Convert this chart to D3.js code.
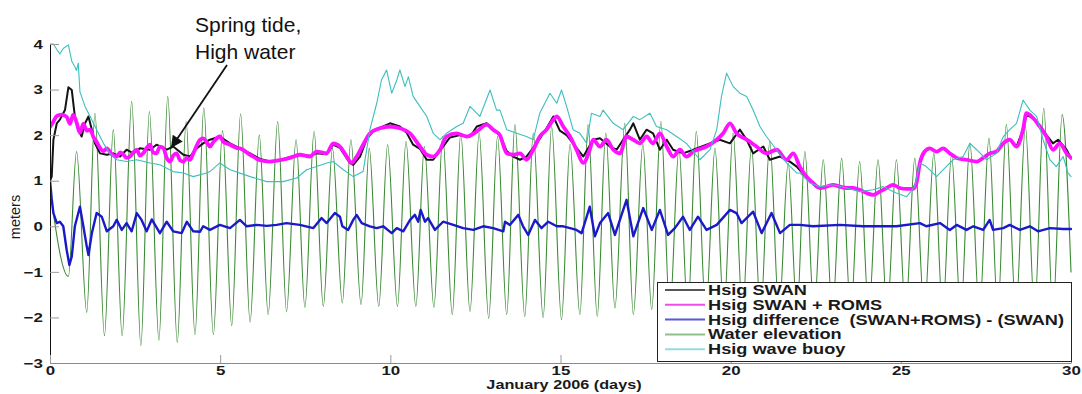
<!DOCTYPE html>
<html>
<head>
<meta charset="utf-8">
<script src="https://cdn.jsdelivr.net/npm/d3@7"></script>
<style>
  html, body { margin: 0; padding: 0; background: #fff; }
  svg { display: block; }
  text { font-family: "Liberation Sans", Arial, Helvetica, sans-serif; }
</style>
</head>
<body>
<svg id="chart" width="1082" height="394"></svg>
<script>
// ---- Water elevation: successive low / high water (day, metres) ----
const tideDay = [0.00, 0.54, 0.78, 1.08, 1.32, 1.60, 1.86, 2.12, 2.40, 2.67, 2.92, 3.20, 3.46, 3.74, 4.00, 4.26, 4.52, 4.80,
  5.07, 5.34, 5.60, 5.88, 6.15, 6.41, 6.69, 6.95, 7.23, 7.49, 7.76, 8.03, 8.30, 8.59, 8.84, 9.14, 9.38, 9.66, 9.92,
  10.21, 10.46, 10.75, 11.00, 11.28, 11.54, 11.82, 12.07, 12.34, 12.61, 12.89, 13.15, 13.42, 13.66, 13.95, 14.20,
  14.49, 14.74, 15.03, 15.28, 15.57, 15.81, 16.08, 16.33, 16.60, 16.89, 17.14, 17.42, 17.68, 17.95, 18.21, 18.48,
  18.74, 18.99, 19.27, 19.54, 19.80, 20.07, 20.35, 20.61, 20.88, 21.15, 21.42, 21.69, 21.95, 22.18, 22.45, 22.72,
  22.99, 23.26, 23.53, 23.79, 24.06, 24.33, 24.60, 24.87, 25.14, 25.41, 25.69, 25.97, 26.23, 26.49, 26.76, 27.03,
  27.31, 27.59, 27.85, 28.10, 28.38, 28.66, 28.93, 29.20, 29.47, 29.74, 30.00];
const tideLevel = [0.80, -1.10, 1.64, -1.89, 2.48, -2.40, 2.12, -2.40, 2.74, -2.62, 2.52, -2.50, 2.85, -2.55, 2.30, -2.38, 2.60, -2.38,
  2.10, -2.18, 2.47, -2.10, 2.00, -1.94, 2.30, -1.87, 1.90, -1.78, 2.08, -1.76, 1.71, -1.68, 1.90, -1.72, 1.71, -1.76, 1.79,
  -1.76, 1.86, -1.76, 1.75, -1.78, 1.97, -1.94, 2.04, -1.87, 2.04, -2.02, 1.97, -1.94, 2.23, -1.98, 2.04,
  -2.00, 2.19, -2.05, 1.80, -1.94, 2.23, -1.98, 2.04, -1.79, 2.26, -1.94, 1.80, -1.83, 2.30, -1.90, 1.70,
  -1.90, 2.08, -1.90, 1.71, -1.90, 2.04, -1.90, 1.75, -1.90, 1.86, -1.90, 1.39, -1.90, 1.64, -1.90, 1.46,
  -1.90, 1.49, -1.90, 1.42, -1.90, 1.46, -1.90, 1.46, -1.90, 1.49, -1.90, 1.60, -1.90, 1.57, -1.90, 1.82,
  -1.90, 1.93, -1.90, 2.23, -1.90, 2.19, -1.90, 2.59, -1.90, 2.45, -1.00];

// ---- Hsig from the wave buoy ----
const buoyDay = [0.00, 0.10, 0.20, 0.29, 0.39, 0.54, 0.64, 0.73, 0.78, 0.83, 0.88, 1.03, 1.18, 1.37, 1.57, 1.76, 1.96, 2.25,
  2.55, 2.94, 3.23, 3.62, 3.92, 4.21, 4.60, 4.70, 4.99, 5.29, 5.88, 6.37, 6.85, 7.25, 7.54, 7.83, 8.13, 8.32, 8.62,
  8.91, 9.20, 9.40, 9.60, 9.74, 9.89, 10.04, 10.19, 10.28, 10.43, 10.53, 10.67, 10.87, 11.07, 11.26, 11.46, 11.65,
  11.95, 12.14, 12.34, 12.63, 12.93, 13.12, 13.22, 13.42, 13.71, 14.00, 14.20, 14.39, 14.69, 14.89, 15.03, 15.18,
  15.37, 15.57, 15.77, 15.91, 16.16, 16.25, 16.55, 16.84, 17.14, 17.33, 17.63, 17.82, 18.12, 18.41, 18.70, 19.10,
  19.39, 19.59, 19.73, 19.88, 20.07, 20.27, 20.47, 20.66, 20.86, 21.05, 21.35, 21.64, 21.94, 22.03, 22.33, 22.62,
  23.01, 23.40, 23.79, 24.19, 24.48, 24.87, 25.17, 25.41, 25.56, 25.75, 26.05, 26.24, 26.54, 26.83, 27.03, 27.23,
  27.52, 27.81, 28.01, 28.20, 28.40, 28.59, 28.79, 28.99, 29.18, 29.38, 29.57, 29.77, 29.91, 30.00];
const buoyHs = [4.00, 4.00, 3.88, 3.78, 3.90, 3.98, 3.62, 3.50, 3.42, 3.58, 2.95, 2.63, 2.41, 2.12, 1.82, 1.60, 1.46, 1.42,
  1.46, 1.39, 1.35, 1.20, 1.17, 1.09, 1.17, 1.20, 1.39, 1.24, 1.09, 0.98, 0.98, 1.06, 1.24, 1.31, 1.39, 1.42, 1.24,
  1.09, 1.20, 2.12, 2.70, 3.21, 3.43, 2.92, 3.21, 3.43, 3.07, 3.28, 2.85, 2.63, 2.41, 2.04, 1.90, 2.04,
  2.19, 2.26, 2.63, 2.41, 2.99, 2.55, 2.55, 2.12, 2.04, 1.97, 1.90, 2.48, 2.92, 2.70, 2.99, 2.63,
  2.12, 2.04, 1.82, 2.48, 2.41, 2.55, 2.26, 2.12, 2.41, 2.34, 2.48, 2.19, 2.12, 1.97, 1.82, 1.46,
  1.68, 2.12, 2.85, 3.36, 3.07, 2.92, 2.85, 2.55, 2.19, 1.97, 1.68, 1.39, 1.17, 1.17, 0.95, 0.87,
  0.91, 0.84, 0.76, 0.80, 0.87, 0.73, 0.65, 0.87, 1.39, 1.31, 1.09, 1.24, 1.46, 1.53, 1.82, 1.68,
  1.46, 1.60, 1.97, 2.12, 2.26, 2.77, 2.55, 2.41, 1.90, 1.46, 1.31, 1.53, 1.17, 1.09];

// ---- Hsig, SWAN alone ----
const swanDay = [0.00, 0.05, 0.10, 0.20, 0.29, 0.44, 0.54, 0.64, 0.73, 0.83, 0.93, 1.03, 1.13, 1.23, 1.32, 1.47, 1.67, 1.86,
  2.06, 2.25, 2.45, 2.64, 2.94, 3.13, 3.43, 3.62, 3.92, 4.11, 4.31, 4.50, 4.70, 4.99, 5.29, 5.58, 5.88, 6.17, 6.46,
  6.76, 7.05, 7.34, 7.64, 7.83, 8.13, 8.32, 8.52, 8.81, 8.91, 9.11, 9.30, 9.50, 9.99, 10.28, 10.48, 10.67, 10.87,
  11.07, 11.26, 11.55, 11.75, 12.05, 12.35, 12.54, 12.83, 13.02, 13.22, 13.42, 13.61, 13.81, 14.00, 14.30, 14.59,
  14.79, 14.98, 15.18, 15.37, 15.67, 15.96, 16.16, 16.45, 16.65, 16.84, 17.04, 17.14, 17.33, 17.53, 17.72, 17.92,
  18.12, 18.31, 18.60, 18.90, 19.29, 19.68, 19.98, 20.27, 20.47, 20.66, 20.96, 21.15, 21.45, 21.74, 21.94, 22.13,
  22.33, 22.52, 22.82, 23.01, 23.21, 23.40, 23.60, 23.79, 23.99, 24.19, 24.38, 24.58, 24.77, 24.97, 25.17, 25.36,
  25.46, 25.56, 25.70, 25.85, 26.05, 26.24, 26.44, 26.64, 26.93, 27.23, 27.42, 27.61, 27.81, 28.01, 28.20, 28.40,
  28.59, 28.69, 28.89, 29.08, 29.28, 29.47, 29.62, 29.87, 30.00];
const swanHs = [1.00, 1.09, 1.90, 2.26, 2.34, 2.55, 3.05, 2.99, 2.41, 2.12, 1.97, 2.26, 2.41, 2.12, 1.82, 1.60, 1.57, 1.60,
  1.53, 1.68, 1.60, 1.71, 1.68, 1.79, 1.68, 1.75, 1.57, 1.53, 1.71, 1.82, 1.90, 1.97, 1.82, 1.71, 1.60, 1.48, 1.42,
  1.45, 1.52, 1.57, 1.55, 1.60, 1.58, 1.79, 1.72, 1.39, 1.35, 1.53, 1.90, 2.10, 2.26, 2.19, 2.05, 1.79, 1.70,
  1.46, 1.46, 1.75, 1.95, 2.00, 1.97, 2.19, 2.26, 2.12, 2.00, 1.65, 1.53, 1.46, 1.53, 1.82, 2.15,
  2.41, 2.10, 2.00, 1.82, 1.53, 1.90, 1.93, 1.75, 1.68, 1.90, 2.12, 2.26, 1.90, 2.12, 2.04, 1.68,
  1.90, 1.68, 1.60, 1.68, 1.79, 1.90, 1.82, 2.12, 1.90, 1.60, 1.75, 1.46, 1.53, 1.42, 1.31, 1.15,
  1.00, 0.86, 0.87, 0.91, 0.87, 0.84, 0.84, 0.80, 0.73, 0.69, 0.76, 0.84, 0.91, 0.84, 0.82, 0.82,
  0.95, 1.39, 1.64, 1.71, 1.64, 1.71, 1.60, 1.50, 1.46, 1.42, 1.50, 1.60, 1.64, 1.82, 1.90, 1.75,
  2.12, 2.45, 2.37, 2.22, 2.00, 1.82, 1.90, 1.68, 1.50];

// ---- Hsig, coupled SWAN + ROMS ----
const coupledDay = [0.00, 0.10, 0.20, 0.34, 0.49, 0.59, 0.68, 0.78, 0.88, 0.98, 1.08, 1.18, 1.27, 1.37, 1.47, 1.57, 1.67, 1.81,
  1.96, 2.06, 2.15, 2.25, 2.35, 2.45, 2.55, 2.64, 2.74, 2.84, 2.94, 3.03, 3.13, 3.23, 3.33, 3.43, 3.53, 3.62, 3.72,
  3.82, 3.92, 4.02, 4.11, 4.21, 4.41, 4.50, 4.60, 4.70, 4.80, 4.99, 5.10, 5.29, 5.48, 5.58, 5.88, 6.17, 6.46, 6.76,
  7.05, 7.34, 7.64, 7.83, 8.13, 8.32, 8.52, 8.72, 8.86, 9.01, 9.20, 9.40, 9.69, 9.99, 10.28, 10.58, 10.87, 11.07,
  11.26, 11.46, 11.65, 11.95, 12.24, 12.54, 12.83, 13.02, 13.22, 13.42, 13.61, 13.81, 14.00, 14.20, 14.39, 14.59,
  14.79, 14.89, 15.08, 15.28, 15.47, 15.67, 15.86, 15.96, 16.16, 16.35, 16.55, 16.75, 16.94, 17.14, 17.33, 17.53,
  17.72, 17.92, 18.12, 18.31, 18.51, 18.70, 18.90, 19.29, 19.59, 19.78, 19.98, 20.17, 20.47, 20.76, 21.05, 21.35,
  21.64, 21.84, 22.03, 22.23, 22.42, 22.62, 22.82, 23.01, 23.21, 23.40, 23.60, 23.79, 23.99, 24.19, 24.38, 24.58,
  24.77, 24.97, 25.17, 25.36, 25.46, 25.56, 25.70, 25.85, 26.05, 26.24, 26.44, 26.64, 26.93, 27.23, 27.42, 27.61,
  27.81, 28.01, 28.20, 28.40, 28.59, 28.69, 28.89, 29.08, 29.28, 29.47, 29.67, 29.87, 30.00];
const coupledHs = [2.18, 2.30, 2.42, 2.45, 2.40, 2.25, 2.45, 2.28, 2.05, 2.25, 2.10, 2.12, 1.97, 1.85, 1.72, 1.65, 1.71, 1.58,
  1.53, 1.62, 1.58, 1.50, 1.53, 1.62, 1.68, 1.55, 1.60, 1.72, 1.79, 1.62, 1.60, 1.75, 1.72, 1.50, 1.42, 1.55, 1.60,
  1.45, 1.42, 1.50, 1.46, 1.60, 1.90, 1.93, 1.85, 1.75, 1.85, 1.97, 1.85, 1.79, 1.72, 1.71, 1.57, 1.45, 1.42, 1.45,
  1.50, 1.57, 1.53, 1.64, 1.60, 1.82, 1.75, 1.53, 1.39, 1.53, 1.79, 2.04, 2.15, 2.19, 2.15, 2.04, 1.75, 1.57,
  1.53, 1.68, 1.97, 2.04, 1.97, 2.08, 2.23, 2.12, 2.00, 1.60, 1.57, 1.60, 1.46, 1.68, 1.97, 2.12,
  2.34, 2.41, 2.19, 1.97, 1.68, 1.39, 1.68, 1.90, 1.75, 1.90, 1.68, 1.60, 1.97, 1.90, 1.82, 1.97,
  1.82, 2.04, 1.75, 1.53, 1.68, 1.53, 1.64, 1.75, 1.90, 2.04, 2.26, 2.04, 1.90, 1.75, 1.60, 1.68,
  1.46, 1.60, 1.31, 1.09, 0.95, 0.84, 0.87, 0.91, 0.87, 0.84, 0.84, 0.80, 0.73, 0.69, 0.76, 0.84,
  0.91, 0.84, 0.82, 0.82, 0.95, 1.39, 1.64, 1.71, 1.64, 1.71, 1.60, 1.50, 1.46, 1.42, 1.50, 1.60,
  1.64, 1.82, 1.90, 1.75, 2.12, 2.48, 2.37, 2.19, 1.97, 1.68, 1.82, 1.60, 1.50];

// ---- Hsig difference (SWAN+ROMS) - (SWAN) ----
const diffDay = [0.00, 0.05, 0.10, 0.20, 0.29, 0.39, 0.49, 0.57, 0.64, 0.73, 0.88, 0.98, 1.08, 1.13, 1.23, 1.37, 1.52, 1.67,
  1.86, 1.96, 2.11, 2.25, 2.40, 2.55, 2.69, 2.84, 2.99, 3.23, 3.43, 3.62, 3.87, 4.02, 4.21, 4.41, 4.50, 4.70, 4.99,
  5.29, 5.58, 5.78, 6.07, 6.37, 6.66, 6.95, 7.34, 7.74, 7.98, 8.13, 8.37, 8.52, 8.59, 8.76, 8.91, 9.01, 9.16, 9.40,
  9.60, 9.79, 10.04, 10.19, 10.38, 10.58, 10.72, 10.82, 10.89, 11.02, 11.11, 11.31, 11.55, 11.85, 12.14, 12.44,
  12.73, 13.02, 13.32, 13.37, 13.51, 13.76, 13.90, 14.05, 14.25, 14.44, 14.64, 14.89, 15.08, 15.28, 15.47, 15.62,
  15.77, 15.86, 16.01, 16.16, 16.40, 16.60, 16.94, 17.14, 17.43, 17.68, 17.92, 18.16, 18.36, 18.60, 18.80, 19.04,
  19.29, 19.59, 19.98, 20.17, 20.32, 20.66, 20.91, 21.20, 21.45, 21.74, 22.03, 22.42, 23.21, 23.89, 24.87, 25.56,
  25.75, 26.15, 26.44, 26.64, 26.93, 27.13, 27.42, 27.61, 27.71, 28.01, 28.20, 28.50, 28.79, 29.03, 29.38, 29.77, 30.00];
const diffHs = [1.00, 0.60, 0.29, 0.07, 0.10, 0.00, -0.52, -0.85, -0.66, 0.00, 0.43, 0.00, -0.44, -0.63, -0.15, 0.29, 0.21, -0.11,
  0.00, 0.14, -0.08, 0.07, -0.11, 0.29, 0.14, -0.11, 0.15, -0.15, 0.10, -0.11, -0.15, 0.10, -0.11, -0.12, 0.00, -0.08, 0.03,
  -0.04, 0.14, 0.00, 0.03, 0.01, 0.03, 0.07, 0.03, -0.04, 0.18, 0.07, 0.29, 0.21, 0.00, -0.08, 0.14, 0.25, 0.07, 0.00,
  -0.04, 0.00, -0.15, -0.04, -0.11, 0.14, 0.25, 0.10, 0.36, 0.10, 0.18, -0.08, 0.10, 0.03, -0.04, -0.08,
  0.00, -0.04, -0.11, 0.10, 0.03, 0.25, 0.00, -0.19, 0.14, -0.04, 0.10, 0.00, 0.00, -0.04, -0.08, -0.15,
  0.21, 0.43, -0.22, 0.07, 0.29, -0.19, 0.58, -0.22, 0.40, -0.08, 0.36, -0.19, -0.04, 0.21, -0.08, 0.21,
  -0.08, 0.03, 0.36, 0.29, 0.07, 0.32, -0.15, 0.29, -0.15, 0.03, 0.03, 0.00, 0.03, 0.00, 0.00, 0.07,
  0.00, 0.07, -0.08, 0.03, -0.08, 0.00, -0.08, 0.14, -0.08, -0.04, 0.03, -0.08, 0.00, -0.11, -0.04, -0.06, -0.06];

// ---- Axis ticks and legend ----
const xTicks = [0, 5, 10, 15, 20, 25, 30];
const yTicks = [-3, -2, -1, 0, 1, 2, 3, 4];
const legendLabels = ["Hsig SWAN", "Hsig SWAN + ROMS", "Hsig difference  (SWAN+ROMS) - (SWAN)", "Water elevation", "Hsig wave buoy"];

const svg = d3.select("#chart");
const x = d3.scaleLinear().domain([0, 30]).range([50, 1071]);
const y = d3.scaleLinear().domain([-3, 4]).range([363, 44]);
const STRETCH = 1.3; // figure text is widened horizontally

const series = [
  { day: swanDay, val: swanHs, color: "#141414", width: 2, curve: d3.curveLinear, legendColor: "#555" },
  { day: coupledDay, val: coupledHs, color: "#ff12ff", width: 3.8, curve: d3.curveMonotoneX, legendColor: "#f04cf0" },
  { day: diffDay, val: diffHs, color: "#1a1ac8", width: 2.4, curve: d3.curveLinear, legendColor: "#5858d8" },
  { day: tideDay, val: tideLevel, color: "#3a8a34", width: 1.1, curve: d3.curveMonotoneX, legendColor: "#8fbf88" },
  { day: buoyDay, val: buoyHs, color: "#3ebebe", width: 1.1, curve: d3.curveLinear, legendColor: "#9adada" }
];

svg.append("defs").append("clipPath").attr("id", "plotClip")
  .append("rect").attr("x", 50).attr("y", 38).attr("width", 1022).attr("height", 326);

const plot = svg.append("g").attr("clip-path", "url(#plotClip)");
// tide underneath, then SWAN, coupled, difference, buoy on top
[3, 0, 1, 2, 4].forEach(i => {
  const s = series[i];
  const pts = s.day.map((d, k) => [d, s.val[k]]);
  plot.append("path")
    .attr("d", d3.line().x(p => x(p[0])).y(p => y(p[1])).curve(s.curve)(pts))
    .attr("fill", "none")
    .attr("stroke", s.color)
    .attr("stroke-width", s.width)
    .attr("stroke-linejoin", "round")
    .attr("stroke-linecap", "round");
});

// axes
const yAxis = svg.append("g").attr("transform", "translate(50,0)")
  .call(d3.axisLeft(y).tickValues(yTicks).tickFormat(d3.format("d"))
    .tickSizeInner(-9).tickSizeOuter(0).tickPadding(5.5));
const xAxis = svg.append("g").attr("transform", "translate(0,363)")
  .call(d3.axisBottom(x).tickValues(xTicks).tickFormat(d3.format("d"))
    .tickSizeInner(-8).tickSizeOuter(0).tickPadding(3));

[yAxis, xAxis].forEach(g => {
  g.selectAll(".tick line").attr("stroke", "#9a9a9a");
  g.selectAll(".tick text")
    .attr("fill", "#1a1a1a")
    .attr("font-size", 13)
    .attr("font-weight", "bold")
    .attr("font-family", "'Liberation Sans', Arial, sans-serif")
    .attr("transform", `scale(${STRETCH},1)`);
});
yAxis.select(".domain").attr("stroke", "#111");
xAxis.select(".domain").attr("stroke", "#8a8a8a");

// axis titles
svg.append("text")
  .attr("transform", `translate(564,389) scale(${STRETCH},1)`)
  .attr("text-anchor", "middle")
  .attr("font-size", 12.5).attr("font-weight", "bold").attr("fill", "#1a1a1a")
  .text("January 2006 (days)");
svg.append("text")
  .attr("transform", "translate(20,217) rotate(-90)")
  .attr("text-anchor", "middle")
  .attr("font-size", 14.5).attr("fill", "#1a1a1a")
  .text("meters");

// legend
const lg = svg.append("g");
lg.append("rect").attr("x", 657.5).attr("y", 282.5).attr("width", 414).attr("height", 79)
  .attr("fill", "#fff").attr("stroke", "#222").attr("stroke-width", 1);
legendLabels.forEach((lab, i) => {
  const cy = 290 + i * 14.8;
  lg.append("line").attr("x1", 665).attr("x2", 705).attr("y1", cy).attr("y2", cy)
    .attr("stroke", series[i].legendColor).attr("stroke-width", 2);
  lg.append("text")
    .attr("transform", `translate(708,${cy + 5}) scale(${STRETCH},1)`)
    .attr("font-size", 14).attr("font-weight", "bold").attr("fill", "#1a1a1a")
    .style("white-space", "pre")
    .text(lab);
});

// annotation
svg.append("defs").append("marker")
  .attr("id", "arrowHead").attr("viewBox", "0 0 10 10").attr("refX", 10).attr("refY", 5)
  .attr("markerWidth", 13).attr("markerHeight", 12).attr("markerUnits", "userSpaceOnUse")
  .attr("orient", "auto")
  .append("path").attr("d", "M0,0 L10,5 L0,10 Z").attr("fill", "#111");
svg.append("line")
  .attr("x1", 227).attr("y1", 65).attr("x2", 171).attr("y2", 148)
  .attr("stroke", "#111").attr("stroke-width", 1.8)
  .attr("marker-end", "url(#arrowHead)");
svg.append("text").attr("x", 195).attr("y", 32).attr("font-size", 21).attr("fill", "#111").text("Spring tide,");
svg.append("text").attr("x", 195).attr("y", 59).attr("font-size", 21).attr("fill", "#111").text("High water");
</script>
</body>
</html>
